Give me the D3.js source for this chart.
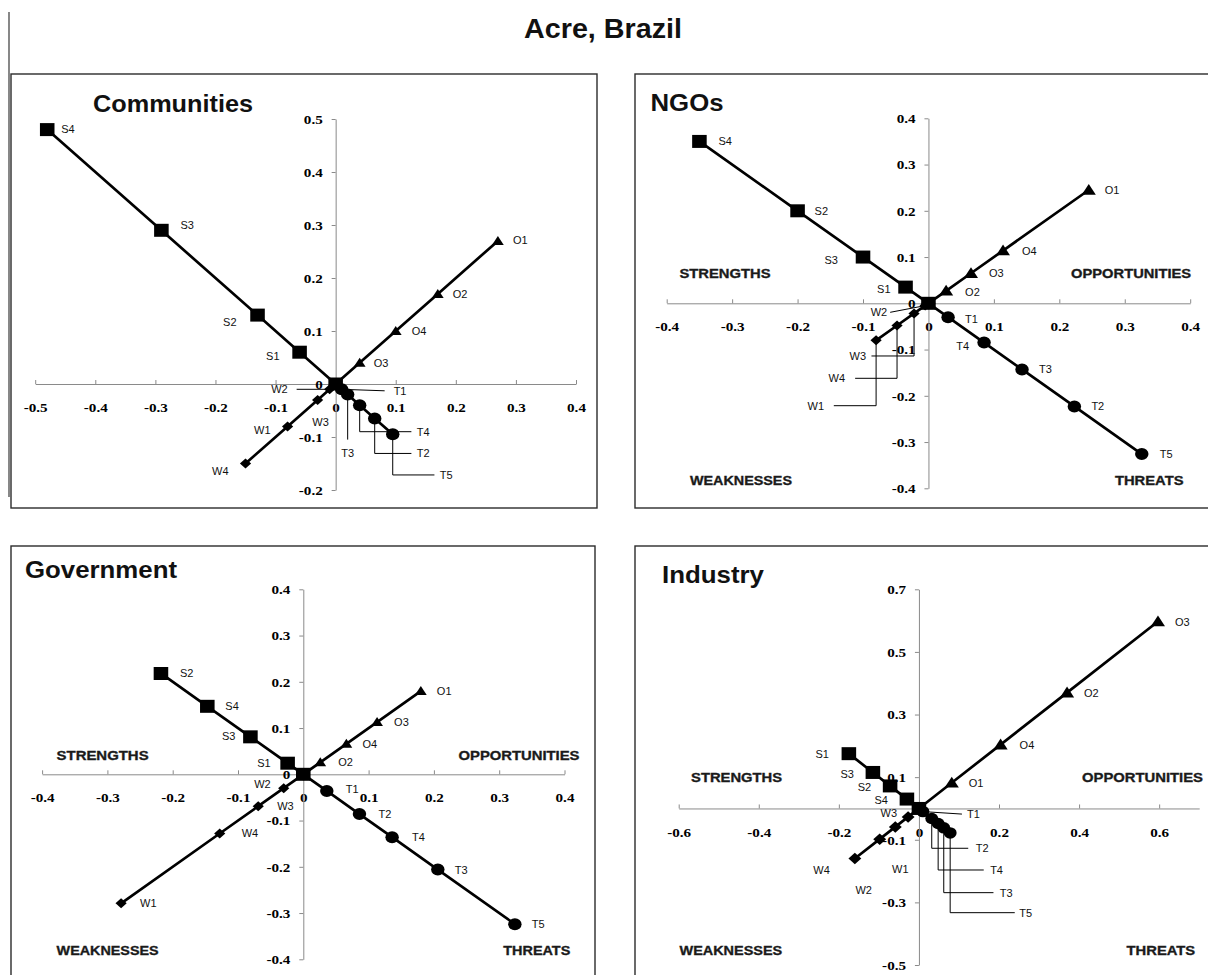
<!DOCTYPE html>
<html>
<head>
<meta charset="utf-8">
<script src="https://cdn.jsdelivr.net/npm/d3@7"></script>
<style>
  body { margin: 0; background: #fff; }
  svg { display: block; }
</style>
</head>
<body>
<svg id="fig" width="1208" height="975"></svg>
<script>
// ---- factor names for each SWOT group ----
const strengthNames    = ["S1", "S2", "S3", "S4"];
const weaknessNames    = ["W1", "W2", "W3", "W4"];
const opportunityNames = ["O1", "O2", "O3", "O4"];
const threatNames      = ["T1", "T2", "T3", "T4", "T5"];

// ---- factor priorities per stakeholder group ----
const communitiesS = [0.06, 0.13, 0.29, 0.48];
const communitiesW = [0.08, 0.01, 0.03, 0.15];
const communitiesO = [0.27, 0.17, 0.04, 0.10];
const communitiesT = [0.01, 0.065, 0.02, 0.04, 0.095];

const ngosS = [0.035, 0.20, 0.10, 0.35];
const ngosW = [0.08, 0.005, 0.022, 0.048];
const ngosO = [0.245, 0.027, 0.065, 0.114];
const ngosT = [0.03, 0.223, 0.143, 0.085, 0.326];

const governmentS = [0.024, 0.218, 0.081, 0.147];
const governmentW = [0.279, 0.03, 0.069, 0.128];
const governmentO = [0.18, 0.026, 0.113, 0.066];
const governmentT = [0.036, 0.086, 0.206, 0.136, 0.324];

const industryS = [0.175, 0.072, 0.115, 0.03];
const industryW = [0.059, 0.098, 0.027, 0.16];
const industryO = [0.082, 0.37, 0.597, 0.204];
const industryT = [0.01, 0.032, 0.062, 0.048, 0.078];

// ---- axis tick values ----
const communitiesXTicks = [-0.5, -0.4, -0.3, -0.2, -0.1, 0, 0.1, 0.2, 0.3, 0.4];
const communitiesYTicks = [-0.2, -0.1, 0, 0.1, 0.2, 0.3, 0.4, 0.5];
const tenthsTicks       = [-0.4, -0.3, -0.2, -0.1, 0, 0.1, 0.2, 0.3, 0.4];
const industryXTicks    = [-0.6, -0.4, -0.2, 0, 0.2, 0.4, 0.6];
const industryYTicks    = [-0.5, -0.3, -0.1, 0.1, 0.3, 0.5, 0.7];

const quadrantNames = ["STRENGTHS", "OPPORTUNITIES", "WEAKNESSES", "THREATS"];

// quadrant direction of each group: strengths up-left, opportunities up-right,
// weaknesses down-left, threats down-right
const groupSign = { S: [-1, 1], O: [1, 1], W: [-1, -1], T: [1, -1] };

// ---- panel layout ----
const panels = [
  {
    title: "Communities", values: { S: communitiesS, W: communitiesW, O: communitiesO, T: communitiesT },
    xTicks: communitiesXTicks, yTicks: communitiesYTicks,
    frame: [11, 74, 586, 434],
    xDomain: [-0.5, 0.4], xRange: [35.2, 576],
    yDomain: [-0.2, 0.5], yRange: [490, 119],
    titlePos: { x: 93, y: 111.5, w: 160 },
    quadrants: null,
    markers: { S: 13, T: 12, O: 10, W: 10 },
    labels: {
      S4: { dx: 14, dy: -1 }, S3: { dx: 19, dy: -5 },
      S2: { dx: -21, dy: 7, a: "end" }, S1: { dx: -20, dy: 4, a: "end" },
      O1: { dx: 15, dy: -1 }, O2: { dx: 15 }, O4: { dx: 16 }, O3: { dx: 14 },
      W4: { dx: -17, dy: 8, a: "end" }, W1: { dx: -17, dy: 4, a: "end" },
      W3: { dx: 3, dy: 22, a: "middle" },
      W2: { dx: -42, dy: 0, a: "end", leader: [[-33, 0]] },
      T1: { dx: 52, dy: 1.5, leader: [[43, 1.5]] },
      T3: { dx: 0, dy: 58, a: "middle", leader: [[0, 45]] },
      T4: { dx: 57, dy: 26.5, leader: [[0, 26.5], [51.7, 26.5]] },
      T2: { dx: 42, dy: 35, leader: [[0, 35], [36.7, 35]] },
      T5: { dx: 47, dy: 40.6, leader: [[0, 40.6], [41.7, 40.6]] }
    }
  },
  {
    title: "NGOs", values: { S: ngosS, W: ngosW, O: ngosO, T: ngosT },
    xTicks: tenthsTicks, yTicks: tenthsTicks,
    frame: [635, 74, 586, 434],
    xDomain: [-0.4, 0.4], xRange: [666.7, 1190.2],
    yDomain: [-0.4, 0.4], yRange: [488.3, 118.3],
    titlePos: { x: 650.5, y: 110.8, w: 73 },
    quadrants: [[679.5, 273.3, 91], [1071.1, 273.3, 120], [690, 480, 102], [1114.9, 480, 68.6]],
    markers: { S: 13, T: 12, O: 12, W: 10 },
    labels: {
      S4: { dx: 19 }, S2: { dx: 17 },
      S3: { dx: -25, dy: 3, a: "end" }, S1: { dx: -15, dy: 2, a: "end" },
      O1: { dx: 16 }, O4: { dx: 19 }, O3: { dx: 18 }, O2: { dx: 19, dy: 1 },
      T1: { dx: 17, dy: 2 }, T4: { dx: -15, dy: 3, a: "end" },
      T3: { dx: 17 }, T2: { dx: 17 }, T5: { dx: 18 },
      W1: { dx: -52, dy: 65.4, a: "end", leader: [[0, 65.4], [-42.3, 65.4]] },
      W4: { dx: -52, dy: 52.8, a: "end", leader: [[0, 52.8], [-41.9, 52.8]] },
      W3: { dx: -48, dy: 42.5, a: "end", leader: [[0, 42.5], [-42.6, 42.5]] },
      W2: { dx: -38, dy: 6.5, a: "end", leader: [[-35, 6.7]] }
    }
  },
  {
    title: "Government", values: { S: governmentS, W: governmentW, O: governmentO, T: governmentT },
    xTicks: tenthsTicks, yTicks: tenthsTicks,
    frame: [11, 546, 584, 440],
    xDomain: [-0.4, 0.4], xRange: [42.1, 564.5],
    yDomain: [-0.4, 0.4], yRange: [959.3, 589.3],
    titlePos: { x: 25, y: 578.3, w: 152 },
    quadrants: [[56.6, 755, 92], [458.5, 755, 121], [56.6, 950, 102], [503.3, 950, 67]],
    markers: { S: 13, T: 12, O: 10, W: 10 },
    labels: {
      S2: { dx: 19 }, S4: { dx: 18 },
      S3: { dx: -15, dy: -1, a: "end" }, S1: { dx: -17, a: "end" },
      O1: { dx: 16 }, O3: { dx: 17 }, O4: { dx: 16 }, O2: { dx: 18 },
      T1: { dx: 19, dy: -2 }, T2: { dx: 19 }, T4: { dx: 20 }, T3: { dx: 17 }, T5: { dx: 17 },
      W2: { dx: -13, dy: -4, a: "end" }, W3: { dx: 19 }, W4: { dx: 22 }, W1: { dx: 19 }
    }
  },
  {
    title: "Industry", values: { S: industryS, W: industryW, O: industryO, T: industryT },
    xTicks: industryXTicks, yTicks: industryYTicks,
    frame: [635, 546, 586, 440],
    xDomain: [-0.6, 0.7], xRange: [678.7, 1199.2],
    yDomain: [-0.5, 0.7], yRange: [965, 589.3],
    titlePos: { x: 662, y: 583, w: 102 },
    quadrants: [[691.1, 777.3, 91], [1082, 777.3, 121], [679.5, 950, 102.7], [1126.6, 950, 68.6]],
    markers: { S: 13, T: 11.5, O: 12, W: 11.5 },
    labels: {
      S1: { dx: -20, a: "end" }, S3: { dx: -19, dy: 2, a: "end" },
      S2: { dx: -19, dy: 1, a: "end" }, S4: { dx: -19, dy: 1, a: "end" },
      O3: { dx: 17 }, O2: { dx: 17 }, O4: { dx: 19 }, O1: { dx: 17 },
      W4: { dx: -25, dy: 11, a: "end" }, W2: { dx: -16, dy: 51, a: "middle" },
      W1: { dx: 5, dy: 42, a: "middle" }, W3: { dx: -11, dy: -4, a: "end" },
      T1: { dx: 44, dy: 2.5, leader: [[39, 2.5]] },
      T2: { dx: 44, dy: 29.8, leader: [[0, 29.8], [36.5, 29.8]] },
      T4: { dx: 52, dy: 46.5, leader: [[0, 46.5], [45.6, 46.5]] },
      T3: { dx: 56, dy: 64.8, leader: [[0, 64.8], [49.7, 64.8]] },
      T5: { dx: 69, dy: 79.8, leader: [[0, 79.8], [64.6, 79.8]] }
    }
  }
];

const namesOf = { S: strengthNames, W: weaknessNames, O: opportunityNames, T: threatNames };
const AXIS = "#8a8a8a";
const FRAME = "#2b2b2b";
const SANS = "'Liberation Sans', Arial, Helvetica, sans-serif";
const SERIF = "'Liberation Serif', 'Times New Roman', serif";
const STRETCH = 1.12;   // chart text and markers are drawn slightly wide

const svg = d3.select("#fig");

// figure frame line on the left
svg.append("line")
  .attr("x1", 9).attr("x2", 9).attr("y1", 12).attr("y2", 497)
  .attr("stroke", "#555").attr("stroke-width", 1.4);

// figure heading
svg.append("text")
  .attr("x", 524).attr("y", 37.5)
  .attr("textLength", 158).attr("lengthAdjust", "spacingAndGlyphs")
  .style("font", `bold 28px ${SANS}`)
  .attr("fill", "#111")
  .text("Acre, Brazil");

const tickFormat = v => Math.abs(v) < 1e-9 ? "0" : v.toFixed(1);

// marker outlines, each filling a box of the given height centred on the point
function markerPath(group, s) {
  const h = s / 2;
  const p = d3.path();
  if (group === "S") {
    p.rect(-h, -h, s, s);
  } else if (group === "T") {
    p.arc(0, 0, h, 0, 2 * Math.PI);
  } else if (group === "O") {
    p.moveTo(0, -h); p.lineTo(h * 1.05, h * 0.8); p.lineTo(-h * 1.05, h * 0.8); p.closePath();
  } else {
    p.moveTo(0, -h); p.lineTo(h, 0); p.lineTo(0, h); p.lineTo(-h, 0); p.closePath();
  }
  return p.toString();
}

function drawPanel(p) {
  const g = svg.append("g");

  g.append("rect")
    .attr("x", p.frame[0]).attr("y", p.frame[1])
    .attr("width", p.frame[2]).attr("height", p.frame[3])
    .attr("fill", "#fff").attr("stroke", FRAME).attr("stroke-width", 1.4);

  const x = d3.scaleLinear().domain(p.xDomain).range(p.xRange);
  const y = d3.scaleLinear().domain(p.yDomain).range(p.yRange);

  const xAxis = g.append("g")
    .attr("transform", `translate(0,${y(0)})`)
    .call(d3.axisBottom(x).tickValues(p.xTicks).tickFormat(tickFormat)
      .tickSizeInner(-4).tickSizeOuter(0).tickPadding(18.5));
  const yAxis = g.append("g")
    .attr("transform", `translate(${x(0)},0)`)
    .call(d3.axisLeft(y).tickValues(p.yTicks).tickFormat(tickFormat)
      .tickSizeInner(4).tickSizeOuter(0).tickPadding(7.5));

  [xAxis, yAxis].forEach(a => {
    a.attr("font-family", null).attr("font-size", null);
    a.select(".domain").attr("stroke", AXIS).attr("stroke-width", 1);
    a.selectAll(".tick line").attr("stroke", AXIS).attr("stroke-width", 1);
    a.selectAll(".tick text")
      .attr("fill", "#000")
      .style("font", `bold 13.5px ${SERIF}`)
      .attr("transform", `scale(${STRETCH},1)`);
  });

  // panel title
  g.append("text")
    .attr("x", p.titlePos.x).attr("y", p.titlePos.y)
    .attr("textLength", p.titlePos.w).attr("lengthAdjust", "spacingAndGlyphs")
    .style("font", `bold 24px ${SANS}`).attr("fill", "#111")
    .text(p.title);

  // quadrant captions
  if (p.quadrants) {
    p.quadrants.forEach((q, i) => {
      g.append("text")
        .attr("x", q[0]).attr("y", q[1]).attr("dy", "0.36em")
        .attr("textLength", q[2]).attr("lengthAdjust", "spacingAndGlyphs")
        .style("font", `bold 13.5px ${SANS}`)
        .attr("fill", "#1a1a1a").attr("stroke", "#1a1a1a").attr("stroke-width", 0.35)
        .text(quadrantNames[i]);
    });
  }

  const line = d3.line().x(d => x(d[0])).y(d => y(d[1]));

  ["S", "O", "W", "T"].forEach(group => {
    const [sx, sy] = groupSign[group];
    const pts = p.values[group].map((v, i) => ({ name: namesOf[group][i], v }));
    const path = [{ name: null, v: 0 }, ...pts.slice().sort((a, b) => a.v - b.v)];

    g.append("path")
      .datum(path.map(d => [sx * d.v, sy * d.v]))
      .attr("d", line)
      .attr("fill", "none").attr("stroke", "#000").attr("stroke-width", 2.7)
      .attr("stroke-linejoin", "round");

    g.selectAll(null).data(path).join("path")
      .attr("d", markerPath(group, p.markers[group]))
      .attr("transform", d => `translate(${x(sx * d.v)},${y(sy * d.v)}) scale(${STRETCH},1)`)
      .attr("fill", "#000");

    pts.forEach(d => {
      const px = x(sx * d.v), py = y(sy * d.v);
      const lab = Object.assign({ dx: 16, dy: 0, a: "start" }, p.labels[d.name] || {});
      if (lab.leader) {
        const ptsLeader = [[px, py], ...lab.leader.map(o => [px + o[0], py + o[1]])];
        g.append("path")
          .attr("d", d3.line()(ptsLeader))
          .attr("fill", "none").attr("stroke", "#000").attr("stroke-width", 1);
      }
      g.append("text")
        .attr("x", px + lab.dx).attr("y", py + lab.dy).attr("dy", "0.36em")
        .attr("text-anchor", lab.a)
        .style("font", `11px ${SANS}`).attr("fill", "#111")
        .text(d.name);
    });
  });
}

panels.forEach(drawPanel);
</script>
</body>
</html>
